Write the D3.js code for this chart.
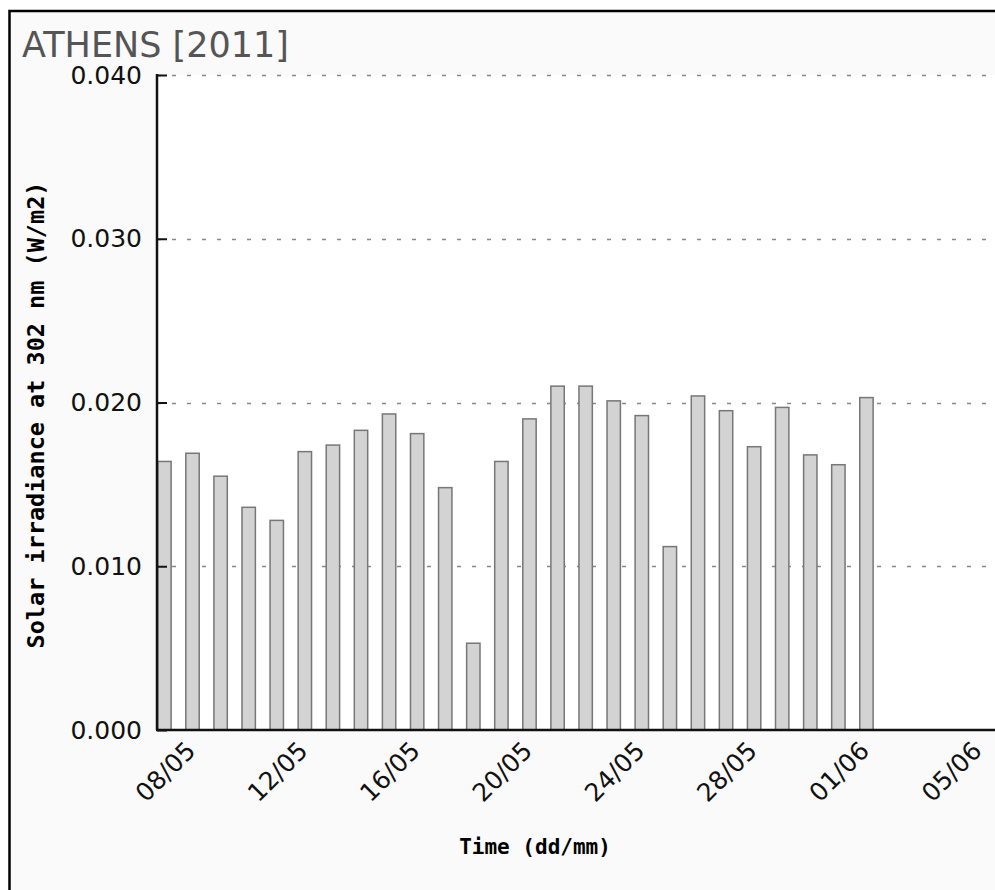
<!DOCTYPE html>
<html>
<head>
<meta charset="utf-8">
<script src="https://cdn.jsdelivr.net/npm/d3@7"></script>
<style>
  html, body { margin: 0; padding: 0; background: #ffffff; }
  svg { display: block; }
</style>
</head>
<body>
<div id="barchart"></div>
<script>
// days with a measurement (ATHENS, 2011)
const days = ["07/05", "08/05", "09/05", "10/05", "11/05", "12/05", "13/05", "14/05",
  "15/05", "16/05", "17/05", "18/05", "19/05", "20/05", "21/05", "22/05", "23/05",
  "24/05", "25/05", "26/05", "27/05", "28/05", "29/05", "30/05", "31/05", "01/06"];
// solar irradiance at 302 nm (W/m2)
const irradiance = [0.0164, 0.0169, 0.0155, 0.0136, 0.0128, 0.0170, 0.0174, 0.0183,
  0.0193, 0.0181, 0.0148, 0.0053, 0.0164, 0.0190, 0.0210, 0.0210, 0.0201,
  0.0192, 0.0112, 0.0204, 0.0195, 0.0173, 0.0197, 0.0168, 0.0162, 0.0203];
// the x axis runs on past the last measured day
const extraDays = ["02/06", "03/06", "04/06", "05/06", "06/06"];
const tickDays = ["08/05", "12/05", "16/05", "20/05", "24/05", "28/05", "01/06", "05/06"];
const yTicks = [0, 0.01, 0.02, 0.03, 0.04];

const svgWidth = 995;
const svgHeight = 890;
const margin = { top: 75, left: 157, bottom: 160 };
const step = 28.08;
const pad = 0.47;

const svg = d3.select("#barchart").append("svg")
  .attr("width", svgWidth)
  .attr("height", svgHeight);

// frame of the image
svg.append("rect")
  .attr("x", 9.5).attr("y", 11)
  .attr("width", 1200).attr("height", 1000)
  .attr("fill", "#fafafa")
  .attr("stroke", "#000")
  .attr("stroke-width", 2.5);

const axisDays = days.concat(extraDays);
const plotBottom = svgHeight - margin.bottom;

const xScale = d3.scaleBand()
  .domain(axisDays)
  .range([margin.left, margin.left + step * (axisDays.length - pad)])
  .paddingInner(pad)
  .paddingOuter(0);

const yScale = d3.scaleLinear()
  .domain([0, 0.04])
  .range([plotBottom, margin.top]);

// plot area
svg.append("rect")
  .attr("x", margin.left).attr("y", margin.top)
  .attr("width", svgWidth - margin.left)
  .attr("height", plotBottom - margin.top)
  .attr("fill", "#fff");

// dotted grid
svg.append("g")
  .selectAll("line")
  .data(yTicks.filter(d => d > 0))
  .join("line")
  .attr("x1", margin.left)
  .attr("x2", svgWidth)
  .attr("y1", d => Math.round(yScale(d)) + 0.5)
  .attr("y2", d => Math.round(yScale(d)) + 0.5)
  .attr("stroke", "#888")
  .attr("stroke-width", 1.5)
  .attr("stroke-dasharray", "4,11");

// bars
svg.append("g")
  .selectAll("rect")
  .data(irradiance)
  .join("rect")
  .attr("x", (d, i) => xScale(days[i]) + 0.75)
  .attr("y", d => yScale(d))
  .attr("width", xScale.bandwidth() - 1.5)
  .attr("height", d => plotBottom - yScale(d))
  .attr("fill", "#d3d3d3")
  .attr("stroke", "#777")
  .attr("stroke-width", 1.5);

// y axis with inner ticks
const yAxis = svg.append("g")
  .attr("transform", "translate(" + margin.left + ",0)")
  .call(d3.axisRight(yScale).tickValues(yTicks).tickSize(10).tickFormat(""));
yAxis.select(".domain").remove();
yAxis.selectAll("line").attr("stroke", "#111").attr("stroke-width", 2);
svg.append("line")
  .attr("x1", margin.left).attr("x2", margin.left)
  .attr("y1", margin.top - 1).attr("y2", plotBottom)
  .attr("stroke", "#111").attr("stroke-width", 2.5);

svg.append("g")
  .selectAll("text")
  .data(yTicks)
  .join("text")
  .attr("x", margin.left - 15)
  .attr("y", d => yScale(d) + 8.5)
  .attr("text-anchor", "end")
  .attr("font-family", "DejaVu Sans")
  .attr("font-size", 25)
  .attr("fill", "#111")
  .text(d3.format(".3f"));

// x axis
svg.append("line")
  .attr("x1", margin.left - 1).attr("x2", svgWidth)
  .attr("y1", plotBottom).attr("y2", plotBottom)
  .attr("stroke", "#111").attr("stroke-width", 2.5);

svg.append("g")
  .selectAll("text")
  .data(tickDays)
  .join("text")
  .attr("transform", d => "translate(" + (xScale(d) + xScale.bandwidth() / 2 - 8) + "," + (plotBottom + 10) + ") rotate(-45)")
  .attr("text-anchor", "end")
  .attr("dy", "0.7em")
  .attr("font-family", "DejaVu Sans")
  .attr("font-size", 25)
  .attr("fill", "#111")
  .text(d => d);

// titles
svg.append("text")
  .attr("x", 22).attr("y", 57)
  .attr("font-family", "DejaVu Sans")
  .attr("font-size", 35)
  .attr("fill", "#555")
  .text("ATHENS [2011]");

svg.append("text")
  .attr("x", 535).attr("y", 854)
  .attr("text-anchor", "middle")
  .attr("font-family", "DejaVu Sans Mono")
  .attr("font-weight", "bold")
  .attr("font-size", 21)
  .attr("fill", "#000")
  .text("Time (dd/mm)");

svg.append("text")
  .attr("transform", "translate(44,415) rotate(-90)")
  .attr("text-anchor", "middle")
  .attr("font-family", "DejaVu Sans Mono")
  .attr("font-weight", "bold")
  .attr("font-size", 23.5)
  .attr("fill", "#000")
  .text("Solar irradiance at 302 nm (W/m2)");
</script>
</body>
</html>
